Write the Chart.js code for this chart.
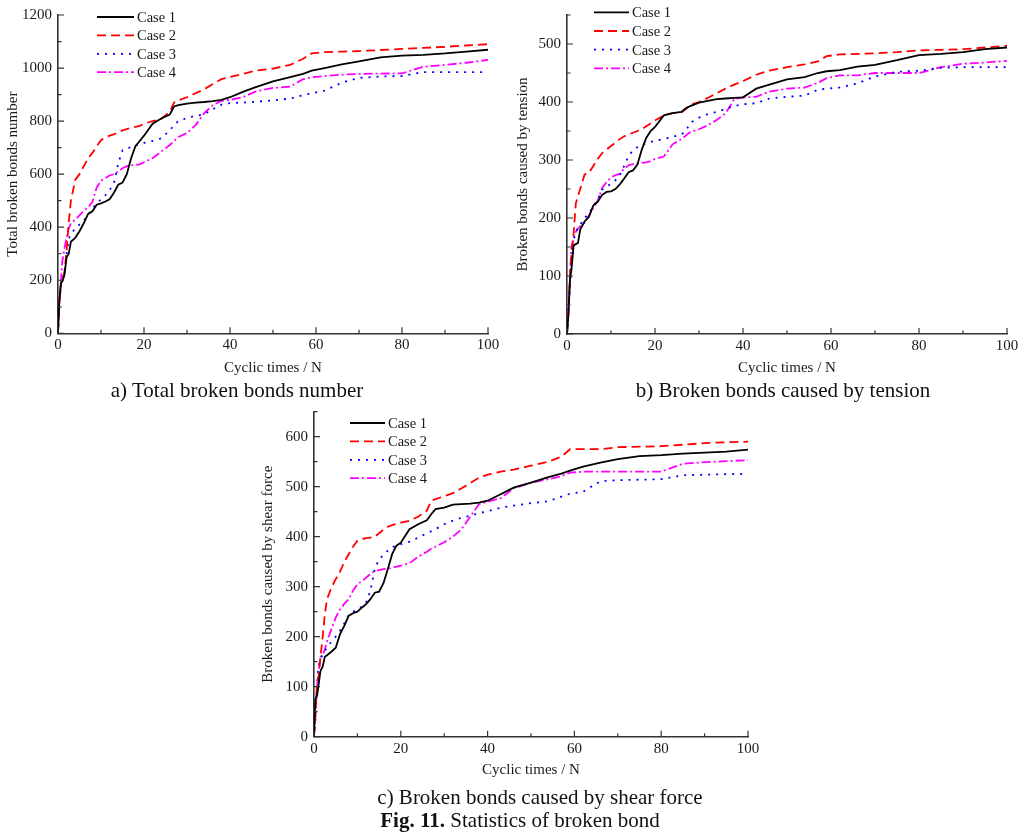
<!DOCTYPE html>
<html lang="en">
<head>
  <meta charset="UTF-8">
  <title>Statistics of broken bond</title>
  <script src="https://cdn.jsdelivr.net/npm/chart.js"></script>
  <style>
    body { margin: 0; background: #fff; font-family: "Liberation Serif", "Times New Roman", serif; }
    #page { position: relative; width: 1031px; height: 837px; overflow: hidden; }
    canvas { position: absolute; }
    .cap { position: absolute; font-size: 21px; line-height: 22px; color: #111; white-space: nowrap; transform: translateX(-50%); }
  </style>
</head>
<body>
  <div id="page">
    <canvas id="chartA" width="510" height="380" style="left:0;top:0"></canvas>
    <canvas id="chartB" width="521" height="380" style="left:510px;top:0"></canvas>
    <canvas id="chartC" width="510" height="395" style="left:255px;top:395px"></canvas>

    <div class="cap" style="left:237px;top:379px">a) Total broken bonds number</div>
    <div class="cap" style="left:783px;top:379px">b) Broken bonds caused by tension</div>
    <div class="cap" style="left:540px;top:786px">c) Broken bonds caused by shear force</div>
    <div class="cap" style="left:520px;top:809px"><b>Fig. 11.</b> Statistics of broken bond</div>
  </div>

  <script>
    // cycle numbers where the curves are sampled
    const cycles = [0, 0.3, 0.7, 1, 1.5, 2, 2.5, 3, 4, 5, 6, 7, 8, 9, 10, 11, 12, 13, 14, 15, 16, 17, 18, 19, 20,
      22, 24, 26, 27, 28, 30, 32, 34, 36, 38, 40, 43, 46, 50, 54, 57, 59, 62, 66, 70, 75, 80, 85, 90, 95, 100];
    const caseNames = ['Case 1', 'Case 2', 'Case 3', 'Case 4'];

    // a) total broken bonds
    const totalCase1 = [0, 120, 190, 195, 220, 287, 300, 345, 360, 385, 415, 450, 460, 485, 490, 497, 505, 530, 560, 568, 600, 660, 705, 725, 745,
      790, 810, 825, 855, 860, 866, 870, 872, 875, 880, 890, 910, 928, 950, 966, 978, 990, 1000, 1014, 1025, 1040, 1047, 1050, 1055, 1062, 1069];
    const totalCase2 = [0, 130, 190, 200, 230, 310, 420, 500, 578, 600, 630, 660, 680, 705, 728, 738, 745, 750, 758, 765, 770, 775, 778, 782, 790,
      800, 808, 835, 870, 878, 890, 905, 920, 940, 958, 966, 978, 990, 998, 1012, 1035, 1055, 1060, 1062, 1064, 1068, 1072, 1076, 1080, 1085, 1090];
    const totalCase3 = [0, 110, 185, 200, 230, 300, 355, 375, 395, 410, 425, 445, 470, 490, 505, 520, 540, 565, 640, 690, 698, 702, 708, 712, 718,
      725, 735, 765, 785, 800, 812, 820, 825, 845, 862, 868, 870, 873, 878, 885, 898, 905, 915, 945, 963, 968, 970, 985, 985, 985, 985];
    const totalCase4 = [0, 100, 200, 270, 320, 360, 395, 415, 428, 445, 462, 475, 495, 550, 575, 585, 595, 600, 610, 622, 630, 633, 635, 637, 645,
      660, 685, 710, 725, 740, 755, 785, 830, 860, 876, 880, 890, 912, 925, 930, 958, 965, 970, 975, 978, 979, 980, 1005, 1012, 1020, 1031];

    // b) broken by tension
    const tensionCase1 = [0, 30, 96, 110, 152, 155, 157, 180, 194, 202, 222, 228, 240, 245, 246, 250, 258, 268, 279, 282, 292, 318, 338, 350, 357,
      377, 381, 383, 389, 393, 399, 402, 405, 406, 407, 408, 423, 430, 439, 443, 450, 453, 455, 461, 464, 472, 481, 483, 486, 491, 494];
    const tensionCase2 = [0, 34, 107, 135, 172, 225, 238, 250, 275, 278, 290, 302, 312, 318, 324, 330, 336, 341, 344, 347, 350, 353, 358, 363, 368,
      377, 381, 382, 388, 395, 400, 407, 415, 423, 430, 436, 447, 454, 460, 465, 470, 479, 482, 483, 484, 486, 489, 490, 491, 494, 497];
    const tensionCase3 = [0, 40, 84, 118, 162, 175, 183, 188, 200, 208, 220, 232, 249, 254, 259, 265, 273, 290, 307, 317, 322, 326, 329, 331, 333,
      336, 340, 344, 350, 364, 373, 379, 383, 388, 393, 396, 398, 406, 409, 411, 421, 423, 425, 432, 444, 452, 454, 459, 460, 460, 460];
    const tensionCase4 = [0, 35, 100, 150, 165, 176, 182, 186, 192, 205, 218, 230, 252, 262, 270, 274, 276, 285, 291, 293, 294, 295, 296, 298, 302,
      306, 327, 336, 342, 348, 353, 360, 369, 380, 405, 408, 409, 418, 423, 425, 433, 441, 446, 446, 450, 450, 450, 460, 466, 468, 471];

    // c) broken by shear force
    const shearCase1 = [0, 75, 82, 100, 132, 140, 160, 163, 170, 178, 205, 222, 242, 247, 250, 258, 265, 275, 288, 290, 307, 335, 365, 382, 388,
      415, 425, 433, 445, 455, 458, 464, 465, 466, 468, 472, 485, 498, 508, 519, 526, 532, 540, 548, 555, 561, 563, 566, 568, 570, 574];
    const shearCase2 = [0, 40, 110, 115, 160, 200, 245, 275, 298, 315, 330, 350, 365, 380, 392, 395, 397, 398, 400, 407, 414, 420, 423, 426, 428,
      432, 440, 452, 472, 475, 481, 487, 497, 507, 518, 524, 530, 534, 542, 550, 560, 575, 575, 575, 579, 580, 581, 584, 587, 589, 590];
    const shearCase3 = [0, 30, 100, 140, 155, 165, 172, 178, 190, 200, 212, 227, 243, 250, 254, 260, 268, 292, 335, 355, 363, 372, 379, 382, 385,
      390, 398, 407, 411, 415, 425, 432, 438, 442, 447, 451, 458, 462, 467, 471, 480, 486, 490, 511, 513, 514, 515, 523, 524, 525, 525];
    const shearCase4 = [0, 40, 100, 125, 160, 162, 175, 190, 215, 238, 255, 266, 275, 292, 305, 311, 318, 326, 331, 333, 335, 336, 338, 340, 342,
      347, 360, 370, 376, 380, 389, 400, 415, 440, 465, 470, 477, 497, 508, 515, 521, 528, 530, 530, 530, 530, 530, 546, 549, 551, 553];

    const lineStyles = [
      { color: '#000000', dash: [] },
      { color: '#ff0000', dash: [9, 5] },
      { color: '#0000ff', dash: [2, 6] },
      { color: '#ff00ff', dash: [9, 3, 2, 3] }
    ];

    const serif = '"Liberation Serif", "Times New Roman", serif';
    Chart.defaults.font.family = serif;
    Chart.defaults.color = '#1a1a1a';

    // tick marks pointing into the plot, long at labelled values, short in between
    const innerTicks = {
      id: 'innerTicks',
      afterDraw(chart, args, opts) {
        const { ctx, chartArea: a, scales: { x, y } } = chart;
        ctx.save();
        ctx.strokeStyle = '#333';
        ctx.lineWidth = 1.2;
        ctx.beginPath();
        for (let v = x.min; v <= x.max; v += opts.xMinor) {
          const px = x.getPixelForValue(v);
          const len = v % opts.xMajor === 0 ? 6 : 3.5;
          ctx.moveTo(px, a.bottom);
          ctx.lineTo(px, a.bottom - len);
        }
        for (let v = y.min; v <= y.max; v += opts.yMinor) {
          const py = y.getPixelForValue(v);
          const len = v % opts.yMajor === 0 ? 6 : 3.5;
          ctx.moveTo(a.left, py);
          ctx.lineTo(a.left + len, py);
        }
        ctx.stroke();
        ctx.restore();
      }
    };

    // legend box inside the plot: line sample followed by the case name
    const caseLegend = {
      id: 'caseLegend',
      afterDatasetsDraw(chart, args, opts) {
        const ctx = chart.ctx;
        ctx.save();
        ctx.font = '14.5px ' + serif;
        ctx.textBaseline = 'middle';
        chart.data.datasets.forEach((ds, i) => {
          const y = opts.y + i * opts.gap;
          ctx.strokeStyle = ds.borderColor;
          ctx.lineWidth = ds.borderWidth;
          ctx.setLineDash(ds.borderDash);
          ctx.beginPath();
          ctx.moveTo(opts.x, y);
          ctx.lineTo(opts.x + opts.len, y);
          ctx.stroke();
          ctx.setLineDash([]);
          ctx.fillStyle = '#1a1a1a';
          ctx.fillText(ds.label, opts.x + opts.len + 3, y + 1);
        });
        ctx.restore();
      }
    };

    function makeChart(id, series, o) {
      const canvas = document.getElementById(id);
      const W = canvas.width, H = canvas.height;
      return new Chart(canvas, {
        type: 'line',
        data: {
          datasets: series.map((vals, i) => ({
            label: caseNames[i],
            data: cycles.map((n, k) => ({ x: n, y: vals[k] })),
            borderColor: lineStyles[i].color,
            borderDash: lineStyles[i].dash,
            borderWidth: 1.8,
            pointRadius: 0,
            fill: false,
            tension: 0
          }))
        },
        options: {
          responsive: false,
          animation: false,
          devicePixelRatio: 1,
          layout: {
            autoPadding: false,
            padding: { left: 0, top: o.area.top, right: W - o.area.right, bottom: 0 }
          },
          plugins: {
            legend: { display: false },
            tooltip: { enabled: false },
            caseLegend: o.legend,
            innerTicks: { xMinor: 10, xMajor: 20, yMinor: o.yMinor, yMajor: o.yStep }
          },
          scales: {
            x: {
              type: 'linear',
              min: 0,
              max: 100,
              ticks: { stepSize: 20, padding: 3, font: { size: 15 }, callback: v => String(v) },
              grid: { drawOnChartArea: false, drawTicks: false },
              border: { color: '#333', width: 1.6 },
              title: {
                display: true, text: 'Cyclic times / N',
                font: { size: 15 }, padding: { top: 0, bottom: o.xTitlePad }
              },
              afterFit: s => { s.height = H - o.area.bottom; }
            },
            y: {
              type: 'linear',
              min: 0,
              max: o.yMax,
              ticks: { stepSize: o.yStep, padding: 6, font: { size: 15 }, callback: v => String(v) },
              afterBuildTicks: s => { s.ticks = s.ticks.filter(t => t.value % o.yStep === 0); },
              grid: { drawOnChartArea: false, drawTicks: false },
              border: { color: '#333', width: 1.6 },
              title: {
                display: true, text: o.yTitle,
                font: { size: 15 }, padding: { top: 4, bottom: 0 }
              },
              afterFit: s => { s.width = o.area.left; }
            }
          }
        },
        plugins: [innerTicks, caseLegend]
      });
    }

    makeChart('chartA', [totalCase1, totalCase2, totalCase3, totalCase4], {
      yMax: 1200, yStep: 200, yMinor: 100,
      area: { left: 58, top: 13.3, right: 488, bottom: 333.3 },
      yTitle: 'Total broken bonds number',
      xTitlePad: 3,
      legend: { x: 97, y: 17, len: 37, gap: 18.4 }
    });

    makeChart('chartB', [tensionCase1, tensionCase2, tensionCase3, tensionCase4], {
      yMax: 550, yStep: 100, yMinor: 50,
      area: { left: 57, top: 4, right: 497, bottom: 334 },
      yTitle: 'Broken bonds caused by tension',
      xTitlePad: 3,
      legend: { x: 84, y: 12.3, len: 35, gap: 18.7 }
    });

    makeChart('chartC', [shearCase1, shearCase2, shearCase3, shearCase4], {
      yMax: 650, yStep: 100, yMinor: 50,
      area: { left: 59, top: 16.7, right: 493, bottom: 341.7 },
      yTitle: 'Broken bonds caused by shear force',
      xTitlePad: 11,
      legend: { x: 95, y: 28, len: 35, gap: 18.4 }
    });
  </script>
</body>
</html>
